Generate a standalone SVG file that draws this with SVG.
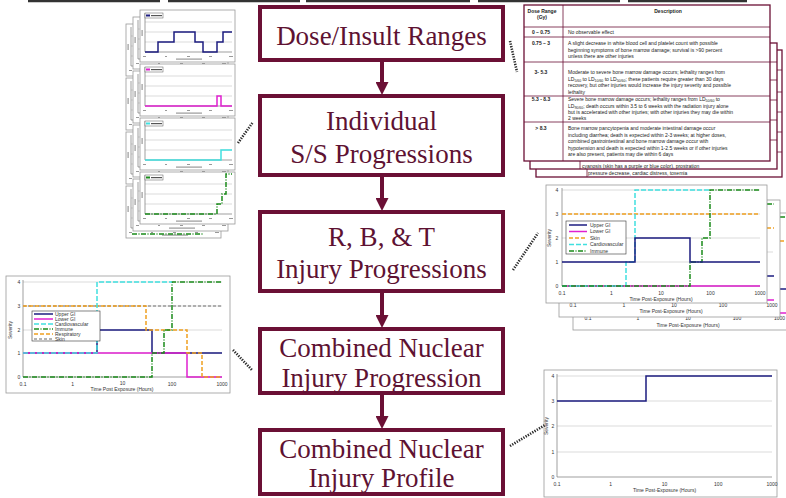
<svg xmlns="http://www.w3.org/2000/svg" xmlns:xlink="http://www.w3.org/1999/xlink" width="786" height="498" viewBox="0 0 786 498">
<style>
.box{fill:#fff;stroke:#6b1035;stroke-width:4}
.bt{font-family:"Liberation Serif","Times New Roman",serif;font-size:27px;fill:#5e1232;text-anchor:middle}
.shaft{stroke:#6b1035;stroke-width:4;fill:none}
.dot{stroke:#2a2a2a;stroke-width:2.6;stroke-dasharray:1.3 1.3;fill:none}
.tt{font-family:"Liberation Sans",Arial,sans-serif;font-size:5px;fill:#222}
.tb{font-family:"Liberation Sans",Arial,sans-serif;font-size:5px;font-weight:bold;fill:#222;text-anchor:middle}
.ct{font-family:"Liberation Sans",Arial,sans-serif;font-size:5px;fill:#333}
.cm{text-anchor:middle}
.frame{fill:#fff;stroke:#999;stroke-width:0.8}
.grid{stroke:#c4c4c4;stroke-width:0.6}
.axis{stroke:#777;stroke-width:0.7;fill:none}
.page{fill:#fff;stroke:#6b1035;stroke-width:1.3}
.rl{stroke:#6b1035;stroke-width:0.8}
.s{fill:none;stroke-width:1.5;stroke-linejoin:miter}
.navy{stroke:#1c1c80}
.mag{stroke:#e020d0}
.org{stroke:#f0a020;stroke-dasharray:4 2}
.cyan{stroke:#40e0e0;stroke-dasharray:5 2}
.grn{stroke:#1a8a1a;stroke-dasharray:5 1.5 1 1.5}
.gry{stroke:#9a9a9a;stroke-dasharray:3 2}
.bar{fill:#999}
</style>
<defs>
<marker id="ah" markerUnits="userSpaceOnUse" markerWidth="13" markerHeight="13" refX="0" refY="6.5" orient="auto" viewBox="0 0 13 13">
<path d="M0,0 L13,6.5 L0,13 z" fill="#6b1035"/>
</marker>
<g id="thumb">
<rect x="0" y="0" width="95" height="52" class="frame"/>
<line x1="5" y1="12" x2="92" y2="12" class="grid"/>
<line x1="5" y1="22" x2="92" y2="22" class="grid"/>
<line x1="5" y1="32" x2="92" y2="32" class="grid"/>
<path d="M5,3 V42 H92" class="axis"/>
<rect x="1.5" y="20" width="1.2" height="6" class="bar"/>
<rect x="3" y="46" width="3" height="1" class="bar"/>
<rect x="25" y="46" width="2" height="1" class="bar"/>
<rect x="47" y="46" width="3" height="1" class="bar"/>
<rect x="69" y="46" width="3" height="1" class="bar"/>
<rect x="89" y="46" width="4" height="1" class="bar"/>
<rect x="36" y="48.5" width="26" height="1.2" class="bar"/>
</g>
</defs>

<rect x="0" y="0" width="786" height="498" fill="#fff"/>
<!-- cut-off title band at top -->
<path d="M28,1 H160 M168,1 H300 M306,1 H470 M478,1 H620 M628,1 H747" stroke="#333" stroke-width="2.5"/>

<!-- Top-left thumbnail stack -->
<g id="thumbs-individual">
<use xlink:href="#thumb" x="126" y="24"/>
<use xlink:href="#thumb" x="126" y="78"/>
<use xlink:href="#thumb" x="126" y="132"/>
<use xlink:href="#thumb" x="126" y="186"/>
<path d="M132,234 H203" class="s grn" stroke-width="1"/>
<use xlink:href="#thumb" x="133" y="17"/>
<use xlink:href="#thumb" x="133" y="71"/>
<use xlink:href="#thumb" x="133" y="125"/>
<use xlink:href="#thumb" x="133" y="179"/>
<use xlink:href="#thumb" x="140" y="10"/>
<use xlink:href="#thumb" x="140" y="64"/>
<use xlink:href="#thumb" x="140" y="118"/>
<use xlink:href="#thumb" x="140" y="172"/>
<g stroke-width="0.5" stroke="#555">
<rect x="145" y="13" width="18" height="5" fill="#fff"/>
<rect x="145" y="67" width="18" height="5" fill="#fff"/>
<rect x="145" y="121" width="18" height="5" fill="#fff"/>
<rect x="145" y="175" width="18" height="5" fill="#fff"/>
</g>
<rect x="146" y="14.5" width="4" height="2" fill="#1c1c80"/><rect x="151" y="15" width="11" height="1.2" fill="#555"/>
<rect x="146" y="68.5" width="4" height="2" fill="#e020d0"/><rect x="151" y="69" width="11" height="1.2" fill="#555"/>
<rect x="146" y="122.5" width="4" height="2" fill="#40e0e0"/><rect x="151" y="123" width="11" height="1.2" fill="#555"/>
<rect x="146" y="176.5" width="4" height="2" fill="#1a8a1a"/><rect x="151" y="177" width="11" height="1.2" fill="#555"/>
<path d="M145,52 H158 V42 H174 V32 H195 V42 H203 V52 H217 V42 H223 V32 H232" class="s navy" stroke-width="1"/>
<path d="M145,106 H217 V96 H221 V106 H232" class="s mag" stroke-width="1.2"/>
<path d="M145,160 H221 V150 H232" class="s" stroke="#40e0e0" stroke-width="1"/>
<path d="M145,214 H217 V204 H222 V194 H226 V174 H232" class="s grn" stroke-width="1"/>
</g>

<!-- Dose table stack -->
<g id="dose-table">
<rect x="536" y="50" width="246" height="127" class="page"/>
<line x1="587" y1="161" x2="587" y2="177" class="rl"/>
<text x="588" y="174.5" class="tt" font-size="5.5">pressure decrease, cardiac distress, toxemia</text>
<rect x="530" y="43" width="247" height="126" class="page"/>
<line x1="580" y1="161" x2="580" y2="169" class="rl"/>
<text x="582" y="167.5" class="tt" font-size="6.3">cyanosis (skin has a purple or blue color), prostration</text>
<g class="rl">
<line x1="770" y1="62" x2="777" y2="62"/><line x1="770" y1="80" x2="777" y2="80"/><line x1="770" y1="100" x2="777" y2="100"/><line x1="770" y1="120" x2="777" y2="120"/><line x1="770" y1="140" x2="777" y2="140"/>
<line x1="777" y1="70" x2="782" y2="70"/><line x1="777" y1="92" x2="782" y2="92"/><line x1="777" y1="112" x2="782" y2="112"/><line x1="777" y1="132" x2="782" y2="132"/><line x1="777" y1="152" x2="782" y2="152"/>
</g>
<rect x="524" y="5" width="246" height="156" class="page" stroke-width="1.6"/>
<g class="rl">
<line x1="563" y1="5" x2="563" y2="161"/>
<line x1="524" y1="27" x2="770" y2="27"/>
<line x1="524" y1="37" x2="770" y2="37"/>
<line x1="524" y1="62" x2="770" y2="62"/>
<line x1="524" y1="96" x2="770" y2="96"/>
<line x1="524" y1="122" x2="770" y2="122"/>
</g>
<text x="542" y="13" class="tb">Dose Range</text>
<text x="542" y="19" class="tb">(Gy)</text>
<text x="668" y="13" class="tb">Description</text>
<text x="541" y="34" class="tb">0 – 0.75</text>
<text x="541" y="45" class="tb">0.75 – 3</text>
<text x="541" y="74" class="tb">3- 5.3</text>
<text x="541" y="101" class="tb">5.3 - 8.3</text>
<text x="541" y="130" class="tb">&gt; 8.3</text>
<text x="568" y="34" class="tt">No observable effect</text>
<text x="568" y="45" class="tt">A slight decrease in white blood cell and platelet count with possible</text>
<text x="568" y="51.5" class="tt">beginning symptoms of bone marrow damage; survival is &gt;90 percent</text>
<text x="568" y="58" class="tt">unless there are other injuries</text>
<text x="568" y="74" class="tt">Moderate to severe bone marrow damage occurs; lethality ranges from</text>
<text x="568" y="80.5" class="tt">LD<tspan font-size="3.5" dy="1">5/60</tspan><tspan dy="-1"> to LD</tspan><tspan font-size="3.5" dy="1">10/60</tspan><tspan dy="-1"> to LD</tspan><tspan font-size="3.5" dy="1">50/60</tspan><tspan dy="-1">; these patients require greater than 30 days</tspan></text>
<text x="568" y="87" class="tt">recovery, but other injuries would increase the injury severity and possible</text>
<text x="568" y="93.5" class="tt">lethality</text>
<text x="568" y="101" class="tt">Severe bone marrow damage occurs; lethality ranges from LD<tspan font-size="3.5" dy="1">50/60</tspan><tspan dy="-1"> to</tspan></text>
<text x="568" y="107.5" class="tt">LD<tspan font-size="3.5" dy="1">90/60</tspan><tspan dy="-1">; death occurs within 3.5 to 6 weeks with the radiation injury alone</tspan></text>
<text x="568" y="114" class="tt">but is accelerated with other injuries; with other injuries they may die within</text>
<text x="568" y="120" class="tt">2 weeks</text>
<text x="568" y="130" class="tt">Bone marrow pancytopenia and moderate intestinal damage occur</text>
<text x="568" y="136.5" class="tt">including diarrhea; death is expected within 2-3 weeks; at higher doses,</text>
<text x="568" y="143" class="tt">combined gastrointestinal and bone marrow damage occur with</text>
<text x="568" y="149.5" class="tt">hypotension and death is expected within 1-2.5 weeks or if other injuries</text>
<text x="568" y="156" class="tt">are also present, patients may die within 6 days</text>
</g>

<!-- RBT chart stack (right middle) -->
<g id="chart-rbt">
<rect x="573" y="213" width="230" height="117" class="frame"/>
<g class="ct cm"><text x="588" y="320">0.1</text><text x="638" y="320">1</text><text x="688" y="320">10</text><text x="737" y="320">100</text><text x="785" y="320" text-anchor="end">1000</text><text x="688" y="327">Time Post-Exposure (Hours)</text></g>
<path d="M780,217 H786" class="s grn"/><path d="M780,241 H786" class="s org"/><path d="M780,289 H786" class="s navy"/><path d="M780,313 H786" class="s mag"/>
<rect x="559" y="200" width="221" height="117" class="frame"/>
<g class="ct cm"><text x="573" y="307">0.1</text><text x="624" y="307">1</text><text x="674" y="307">10</text><text x="723" y="307">100</text><text x="772" y="307">1000</text><text x="671" y="313">Time Post-Exposure (Hours)</text></g>
<line x1="767" y1="252" x2="773" y2="252" class="grid"/>
<path d="M767,204 H774" class="s grn"/><path d="M767,228 H774" class="s org"/><path d="M767,276 H774" class="s navy"/><path d="M767,300 H774" class="s mag"/>
<rect x="546" y="185" width="221" height="118" class="frame"/>
<line x1="562" y1="190" x2="760" y2="190" class="grid"/>
<line x1="562" y1="214" x2="760" y2="214" class="grid"/>
<line x1="562" y1="238" x2="760" y2="238" class="grid"/>
<line x1="562" y1="262" x2="760" y2="262" class="grid"/>
<path d="M562,188 V286 H760" class="axis"/>
<g class="ct cm"><text x="557" y="192">4</text><text x="557" y="216">3</text><text x="557" y="240">2</text><text x="557" y="264">1</text><text x="557" y="288">0</text>
<text x="562" y="295">0.1</text><text x="611.5" y="295">1</text><text x="661" y="295">10</text><text x="710.5" y="295">100</text><text x="760" y="295">1000</text>
<text x="661" y="301">Time Post-Exposure (Hours)</text>
<text transform="translate(551,238) rotate(-90)">Severity</text></g>
<path d="M562,214 H760" class="s org"/>
<path d="M562,286 H760" class="s mag" stroke-width="2"/>
<path d="M562,286 H626 V262 H635 V190 H710" class="s cyan"/>
<path d="M562,286 H690 V262 H702 V238 H710 V190 H760" class="s grn" stroke-width="1.8"/>
<path d="M562,262 H635 V238 H690 V262 H760" class="s navy" stroke-width="1.6"/>
<rect x="566" y="221" width="60" height="33" fill="#fff" stroke="#333" stroke-width="0.6"/>
<path d="M569,225 H587" class="s navy"/><path d="M569,231.5 H587" class="s mag"/><path d="M569,238 H587" class="s org"/><path d="M569,244.5 H587" class="s cyan"/><path d="M569,251 H587" class="s grn"/>
<g class="ct" font-size="4.5"><text x="590" y="226.5">Upper GI</text><text x="590" y="233">Lower GI</text><text x="590" y="239.5">Skin</text><text x="590" y="246">Cardiovascular</text><text x="590" y="252.5">Immune</text></g>
</g>

<!-- Combined progression chart (left) -->
<g id="chart-combined">
<rect x="6" y="276" width="224" height="117" class="frame"/>
<line x1="23" y1="282" x2="222" y2="282" class="grid"/>
<line x1="23" y1="306" x2="222" y2="306" class="grid"/>
<line x1="23" y1="330" x2="222" y2="330" class="grid"/>
<line x1="23" y1="353" x2="222" y2="353" class="grid"/>
<path d="M23,280 V377 H222" class="axis"/>
<g class="ct cm"><text x="19" y="284">4</text><text x="19" y="308">3</text><text x="19" y="332">2</text><text x="19" y="355">1</text><text x="19" y="379">0</text>
<text x="23" y="386">0.1</text><text x="72.75" y="386">1</text><text x="122.5" y="385">10</text><text x="172" y="386">100</text><text x="222" y="386">1000</text>
<text x="122" y="391">Time Post Exposure (Hours)</text>
<text transform="translate(12,330) rotate(-90)">Severity</text></g>
<path d="M23,306 H222" class="s gry"/>
<path d="M23,353 H97 V330 H152 V353 H222" class="s navy" stroke-width="1.6"/>
<path d="M23,353 H187 V377 H222" class="s mag" stroke-width="1.6"/>
<path d="M23,306 H146 V330 H187 V353 H202 V377 H222" class="s org" stroke-width="1.6"/>
<path d="M23,377 H152 V353 H164 V330 H172 V282 H222" class="s grn" stroke-width="1.8"/>
<path d="M23,353 H97 V282 H172" class="s cyan"/>
<rect x="32" y="311" width="68" height="30" fill="#fff" stroke="#333" stroke-width="0.6"/>
<path d="M34,314 H53" class="s navy"/><path d="M34,319 H53" class="s mag"/><path d="M34,324 H53" class="s cyan"/><path d="M34,329 H53" class="s grn"/><path d="M34,334 H53" class="s org"/><path d="M34,339 H53" class="s gry"/>
<g class="ct" font-size="4.3"><text x="55" y="315.5">Upper GI</text><text x="55" y="320.5">Lower GI</text><text x="55" y="325.5">Cardiovascular</text><text x="55" y="330.5">Immune</text><text x="55" y="335.5">Respiratory</text><text x="55" y="340.5">Skin</text></g>
</g>

<!-- Profile chart (bottom right) -->
<g id="chart-profile">
<rect x="544" y="370" width="233" height="127" class="frame"/>
<line x1="557" y1="376" x2="772" y2="376" class="grid"/>
<line x1="557" y1="401" x2="772" y2="401" class="grid"/>
<line x1="557" y1="426" x2="772" y2="426" class="grid"/>
<line x1="557" y1="452" x2="772" y2="452" class="grid"/>
<path d="M557,374 V477 H772" class="axis"/>
<g class="ct cm"><text x="553" y="378">4</text><text x="553" y="403">3</text><text x="553" y="428">2</text><text x="553" y="454">1</text><text x="553" y="479">0</text>
<text x="557" y="486">0.1</text><text x="610.75" y="486">1</text><text x="664.5" y="486">10</text><text x="718.25" y="486">100</text><text x="772" y="486">1000</text>
<text x="664.5" y="492">Time Post-Exposure (Hours)</text>
<text transform="translate(548,426) rotate(-90)">Severity</text></g>
<path d="M557,401 H646 V376 H772" class="s navy" stroke-width="1.8"/>
</g>

<!-- Flowchart nodes -->
<g id="node-dose">
<rect x="260" y="7" width="243" height="53" class="box"/>
<text x="381.5" y="45" class="bt">Dose/Insult Ranges</text>
</g>
<g id="node-individual">
<rect x="260" y="96" width="243" height="79" class="box"/>
<text x="381.5" y="130" class="bt">Individual</text>
<text x="381.5" y="163" class="bt">S/S Progressions</text>
</g>
<g id="node-rbt">
<rect x="260" y="212" width="243" height="79" class="box"/>
<text x="381.5" y="246" class="bt">R, B, &amp; T</text>
<text x="381.5" y="278" class="bt">Injury Progressions</text>
</g>
<g id="node-combined-progression">
<rect x="260" y="329" width="243" height="64" class="box"/>
<text x="381.5" y="357" class="bt">Combined Nuclear</text>
<text x="381.5" y="387" class="bt">Injury Progression</text>
</g>
<g id="node-combined-profile">
<rect x="260" y="430" width="243" height="64" class="box"/>
<text x="381.5" y="458" class="bt">Combined Nuclear</text>
<text x="381.5" y="487" class="bt">Injury Profile</text>
</g>

<!-- Connectors -->
<g id="connectors">
<line x1="382" y1="62" x2="382" y2="82" class="shaft" marker-end="url(#ah)"/>
<line x1="382" y1="177" x2="382" y2="198" class="shaft" marker-end="url(#ah)"/>
<line x1="382" y1="293" x2="382" y2="315" class="shaft" marker-end="url(#ah)"/>
<line x1="382" y1="395" x2="382" y2="416" class="shaft" marker-end="url(#ah)"/>
<line x1="510" y1="41" x2="517" y2="72" class="dot"/>
<line x1="238" y1="143" x2="253" y2="122" class="dot"/>
<line x1="513" y1="270" x2="538" y2="233" class="dot"/>
<line x1="233" y1="350" x2="252" y2="370" class="dot"/>
<line x1="510" y1="446" x2="545" y2="425" class="dot"/>
</g>
</svg>
